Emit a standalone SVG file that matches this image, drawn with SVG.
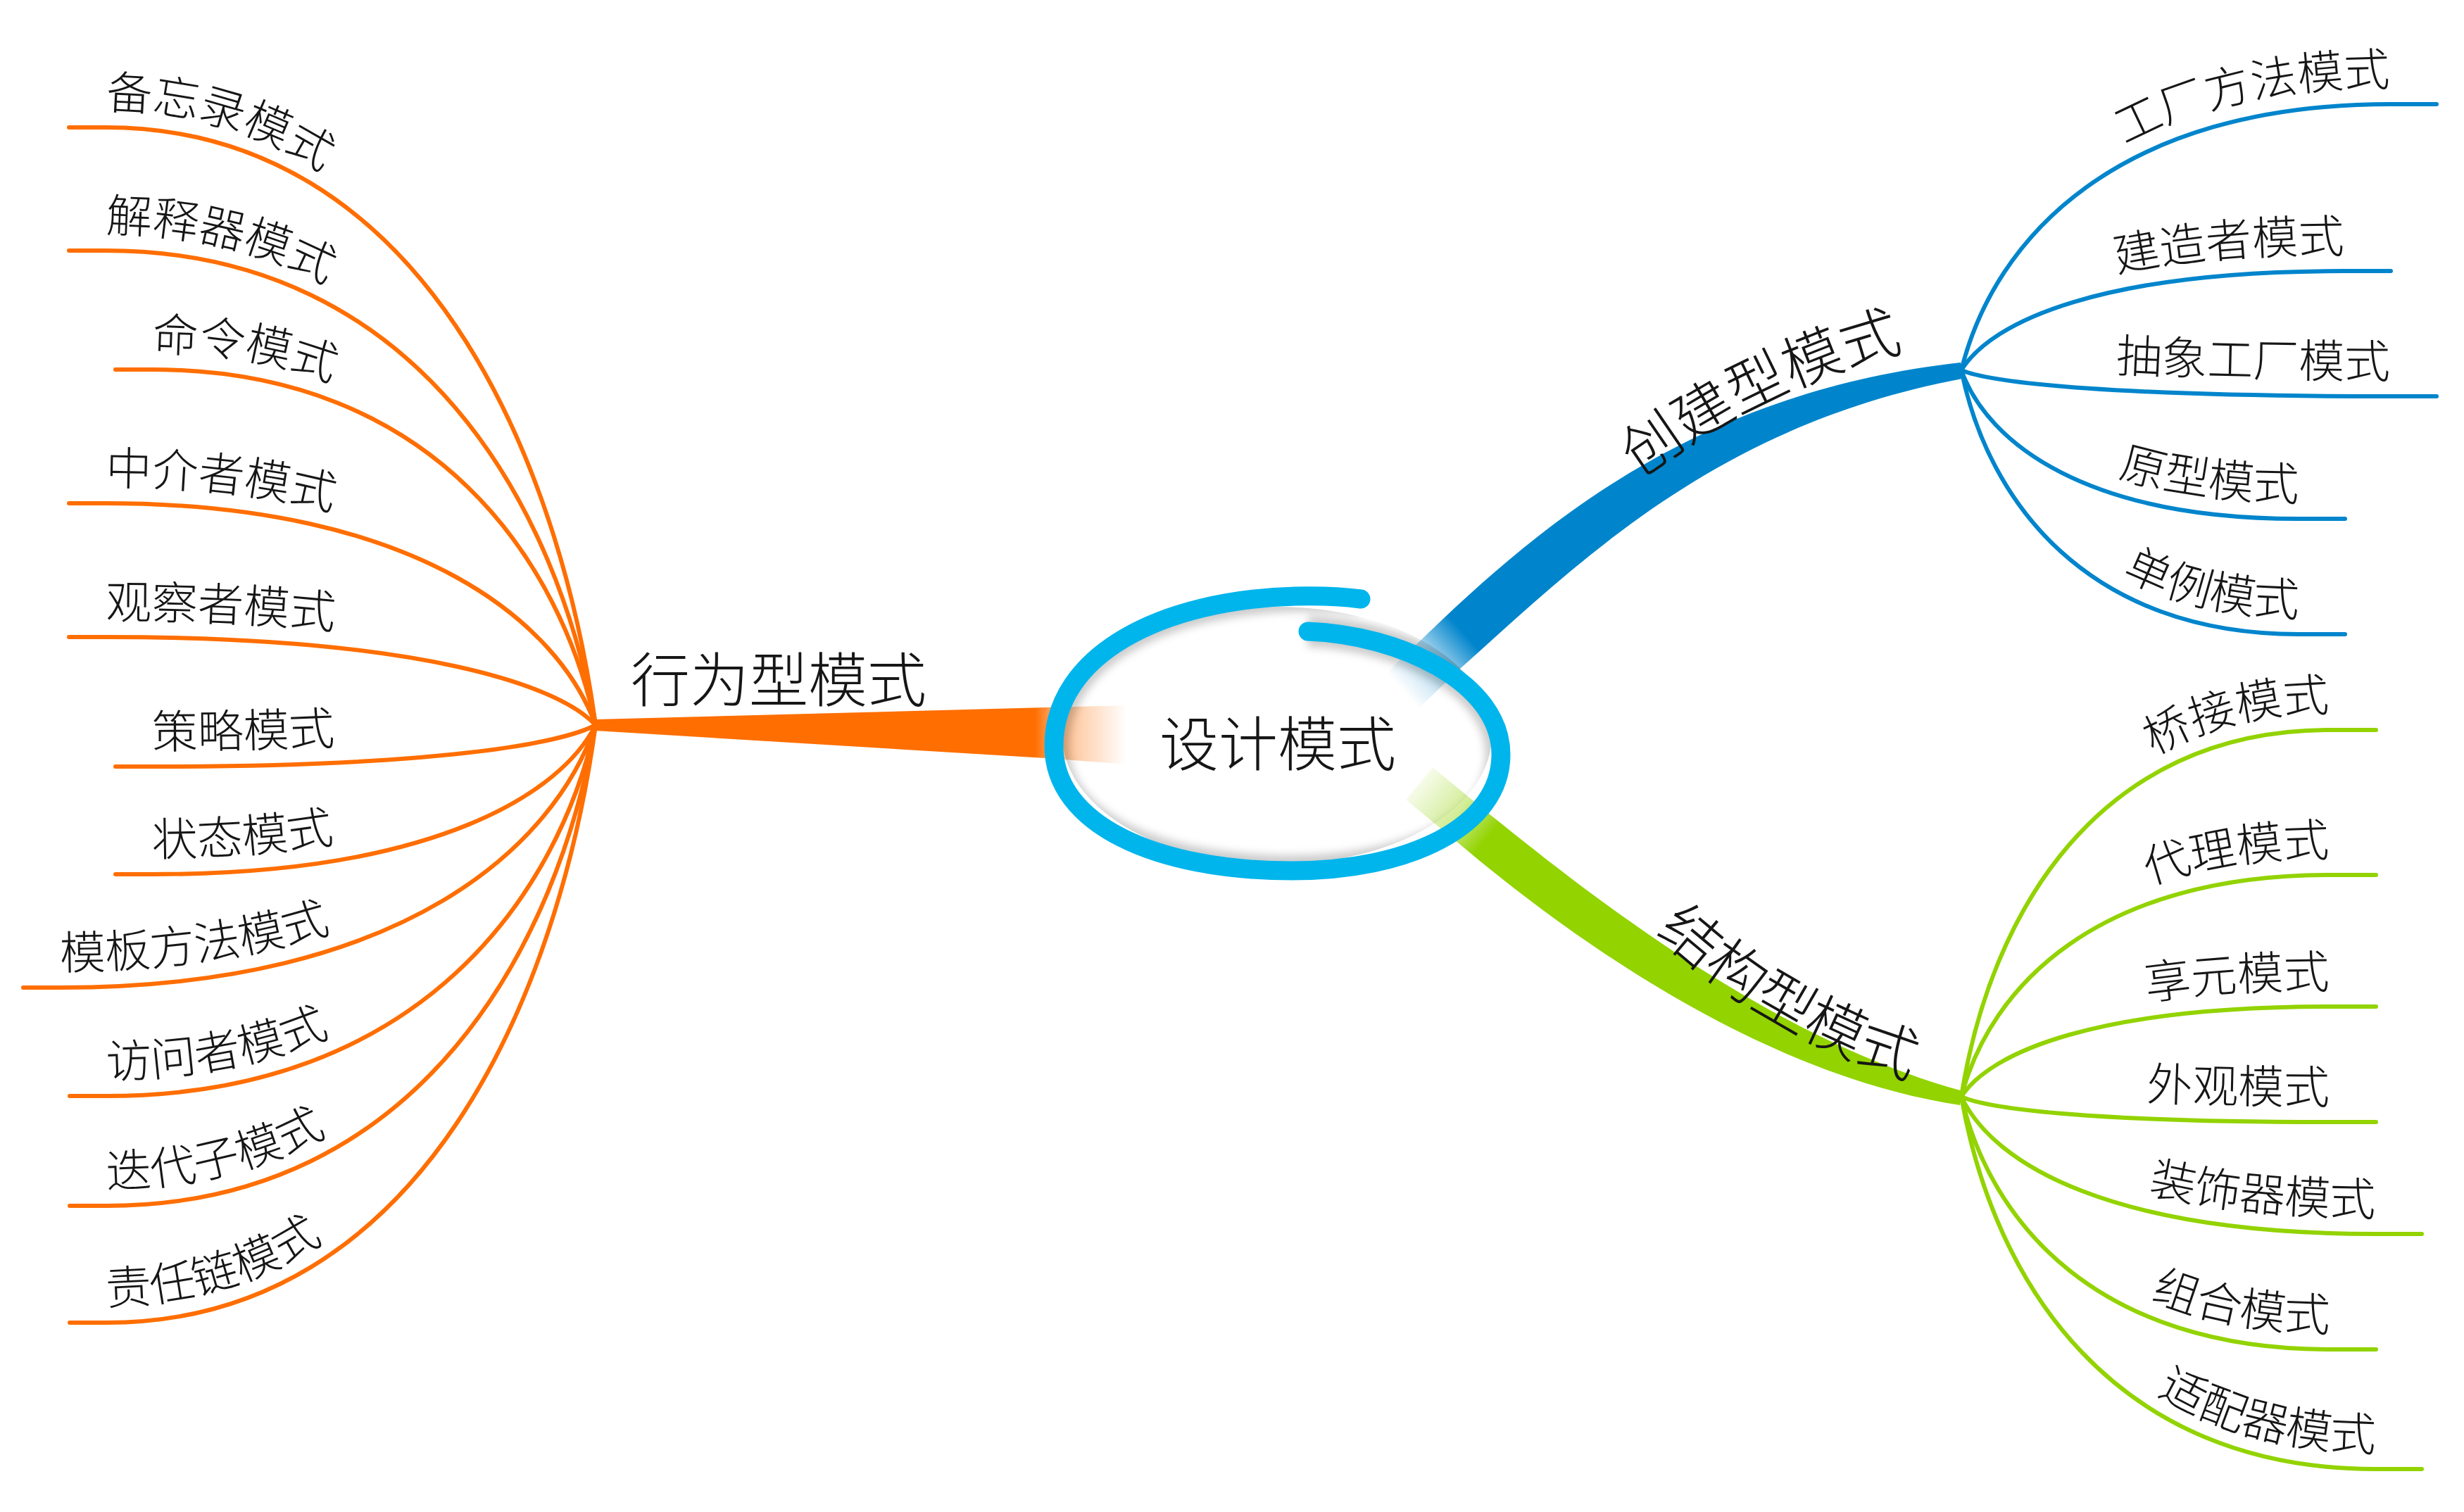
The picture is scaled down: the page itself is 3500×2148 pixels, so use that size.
<svg xmlns="http://www.w3.org/2000/svg" width="3500" height="2148" viewBox="0 0 3500 2148">
<style>
.lo{fill:none;stroke:#FF6E00;stroke-width:6;stroke-linecap:round}
.lb{fill:none;stroke:#0085CC;stroke-width:6;stroke-linecap:round}
.lg{fill:none;stroke:#92D300;stroke-width:6;stroke-linecap:round}
.t{font-family:"Noto Sans CJK SC","Noto Sans",sans-serif;fill:#161616;font-weight:300}
.leaf{font-size:65px}
.main{font-size:84px}
</style>
<defs>
<linearGradient id="gO" gradientUnits="userSpaceOnUse" x1="1470" y1="0" x2="1600" y2="0">
<stop offset="0" stop-color="#FF6E00" stop-opacity="1"/>
<stop offset="0.28" stop-color="#FF6E00" stop-opacity="0.45"/>
<stop offset="1" stop-color="#FF6E00" stop-opacity="0"/>
</linearGradient>
<linearGradient id="gB" gradientUnits="userSpaceOnUse" x1="1995" y1="985" x2="2085" y2="905">
<stop offset="0" stop-color="#0085CC" stop-opacity="0"/>
<stop offset="0.5" stop-color="#0085CC" stop-opacity="0.3"/>
<stop offset="1" stop-color="#0085CC" stop-opacity="1"/>
</linearGradient>
<linearGradient id="gG" gradientUnits="userSpaceOnUse" x1="2000" y1="1105" x2="2110" y2="1195">
<stop offset="0" stop-color="#92D300" stop-opacity="0"/>
<stop offset="0.6" stop-color="#92D300" stop-opacity="0.4"/>
<stop offset="1" stop-color="#92D300" stop-opacity="1"/>
</linearGradient>
<filter id="blur" x="-20%" y="-20%" width="140%" height="140%"><feGaussianBlur stdDeviation="6"/></filter>
<clipPath id="inner"><ellipse cx="1814" cy="1045" rx="305" ry="183"/></clipPath>
<path id="ring" d="M1858 897 C1990 902 2132 970 2132 1072 C2132 1175 2000 1237 1835 1237 C1640 1237 1497 1170 1497 1060 C1497 930 1650 852 1840 847 C1880 846 1910 848 1933 851"/>
<path id="tp-l1" d="M150 155 C599 155 794 622 846 1004"/>
<path id="tp-l2" d="M150 330 C599 330 794 701 846 1004"/>
<path id="tp-l3" d="M216 499 C621 499 798 777 846 1004"/>
<path id="tp-l4" d="M150 689 C599 689 794 862 846 1004"/>
<path id="tp-l5" d="M150 879 C599 879 794 948 846 1004"/>
<path id="tp-l6" d="M216 1063 C621 1063 798 1030 846 1004"/>
<path id="tp-l7" d="M216 1216 C621 1216 798 1099 846 1004"/>
<path id="tp-l8" d="M85 1377 C578 1377 789 1172 846 1004"/>
<path id="tp-l9" d="M151 1531 C600 1531 794 1241 846 1004"/>
<path id="tp-l10" d="M151 1687 C600 1687 794 1311 846 1004"/>
<path id="tp-l11" d="M151 1853 C600 1853 794 1386 846 1004"/>
<path id="tp-r1" d="M2786 500 C2833 311 3009 122 3395 122"/>
<path id="tp-r2" d="M2786 500 C2829 429.5 2987 359 3330 359"/>
<path id="tp-r3" d="M2786 500 C2833 518.5 3009 537 3395 537"/>
<path id="tp-r4" d="M2786 500 C2824 605.5 2966 711 3265 711"/>
<path id="tp-r5" d="M2786 500 C2824 687.5 2966 875 3265 875"/>
<path id="tp-g1" d="M2786 1532 C2827 1271.5 2980 1011 3309 1011"/>
<path id="tp-g2" d="M2786 1532 C2827 1374.5 2980 1217 3309 1217"/>
<path id="tp-g3" d="M2786 1532 C2827 1468 2980 1404 3309 1404"/>
<path id="tp-g4" d="M2786 1532 C2827 1550 2980 1568 3309 1568"/>
<path id="tp-g5" d="M2786 1532 C2832 1629.5 3002 1727 3374 1727"/>
<path id="tp-g6" d="M2786 1532 C2827 1711.5 2980 1891 3309 1891"/>
<path id="tp-g7" d="M2786 1532 C2832 1796.5 3002 2061 3374 2061"/>
<path id="tp-create" d="M2329 679 Q2506 549 2704 498"/>
<path id="tp-struct" d="M2349 1323 Q2517 1476 2716 1533"/>
</defs>
<rect width="3500" height="2148" fill="#fff"/>
<g id="connectors">
<path d="M846 1022 L1485 1005 L1605 1002 L1605 1086 L1485 1077 L846 1038 Z" fill="url(#gO)"/>
<path d="M1961 964 L2026 902 C2196 738 2416 556 2785 515 L2787 538 C2440 604 2250 792 2074 950 L2009 1012 Z" fill="url(#gB)"/>
<path d="M2035 1090 L2104 1147 C2250 1265 2512 1475 2788 1550 L2784 1570 C2488 1525 2210 1315 2066 1193 L1997 1136 Z" fill="url(#gG)"/>
<path class="lo" d="M98 181 H150 C599 181 794 648 846 1030"/>
<path class="lo" d="M98 356 H150 C599 356 794 727 846 1030"/>
<path class="lo" d="M164 525 H216 C621 525 798 803 846 1030"/>
<path class="lo" d="M98 715 H150 C599 715 794 888 846 1030"/>
<path class="lo" d="M98 905 H150 C599 905 794 974 846 1030"/>
<path class="lo" d="M164 1089 H216 C621 1089 798 1056 846 1030"/>
<path class="lo" d="M164 1242 H216 C621 1242 798 1125 846 1030"/>
<path class="lo" d="M33 1403 H85 C578 1403 789 1198 846 1030"/>
<path class="lo" d="M99 1557 H151 C600 1557 794 1267 846 1030"/>
<path class="lo" d="M99 1713 H151 C600 1713 794 1337 846 1030"/>
<path class="lo" d="M99 1879 H151 C600 1879 794 1412 846 1030"/>
<path class="lb" d="M2786 526 C2833 337 3009 148 3395 148 H3461"/>
<path class="lb" d="M2786 526 C2829 455.5 2987 385 3330 385 H3396"/>
<path class="lb" d="M2786 526 C2833 544.5 3009 563 3395 563 H3461"/>
<path class="lb" d="M2786 526 C2824 631.5 2966 737 3265 737 H3331"/>
<path class="lb" d="M2786 526 C2824 713.5 2966 901 3265 901 H3331"/>
<path class="lg" d="M2786 1558 C2827 1297.5 2980 1037 3309 1037 H3375"/>
<path class="lg" d="M2786 1558 C2827 1400.5 2980 1243 3309 1243 H3375"/>
<path class="lg" d="M2786 1558 C2827 1494 2980 1430 3309 1430 H3375"/>
<path class="lg" d="M2786 1558 C2827 1576 2980 1594 3309 1594 H3375"/>
<path class="lg" d="M2786 1558 C2832 1655.5 3002 1753 3374 1753 H3440"/>
<path class="lg" d="M2786 1558 C2827 1737.5 2980 1917 3309 1917 H3375"/>
<path class="lg" d="M2786 1558 C2832 1822.5 3002 2087 3374 2087 H3440"/>
</g>
<g id="root">
<g clip-path="url(#inner)">
<use href="#ring" fill="none" stroke="#000" stroke-opacity="0.2" stroke-width="44" filter="url(#blur)"/>
</g>
<use href="#ring" fill="none" stroke="#00B5EC" stroke-width="27" stroke-linecap="round"/>
<text class="t main" x="1815" y="1088" text-anchor="middle">设计模式</text>
</g>
<g id="node-behavior"><text class="t main" x="896" y="997">行为型模式</text></g>
<g id="node-creational"><text class="t main" text-anchor="middle"><textPath href="#tp-create" startOffset="50%">创建型模式</textPath></text></g>
<g id="node-structural"><text class="t main" text-anchor="middle"><textPath href="#tp-struct" startOffset="50%">结构型模式</textPath></text></g>
<g id="node-memento"><text class="t leaf"><textPath href="#tp-l1">备忘录模式</textPath></text></g>
<g id="node-interpreter"><text class="t leaf"><textPath href="#tp-l2">解释器模式</textPath></text></g>
<g id="node-command"><text class="t leaf"><textPath href="#tp-l3">命令模式</textPath></text></g>
<g id="node-mediator"><text class="t leaf"><textPath href="#tp-l4">中介者模式</textPath></text></g>
<g id="node-observer"><text class="t leaf"><textPath href="#tp-l5">观察者模式</textPath></text></g>
<g id="node-strategy"><text class="t leaf"><textPath href="#tp-l6">策略模式</textPath></text></g>
<g id="node-state"><text class="t leaf"><textPath href="#tp-l7">状态模式</textPath></text></g>
<g id="node-template"><text class="t leaf"><textPath href="#tp-l8">模板方法模式</textPath></text></g>
<g id="node-visitor"><text class="t leaf"><textPath href="#tp-l9">访问者模式</textPath></text></g>
<g id="node-iterator"><text class="t leaf"><textPath href="#tp-l10">迭代子模式</textPath></text></g>
<g id="node-chain"><text class="t leaf"><textPath href="#tp-l11">责任链模式</textPath></text></g>
<g id="node-factory-method"><text class="t leaf" text-anchor="end"><textPath href="#tp-r1" startOffset="100%">工厂方法模式</textPath></text></g>
<g id="node-builder"><text class="t leaf" text-anchor="end"><textPath href="#tp-r2" startOffset="100%">建造者模式</textPath></text></g>
<g id="node-abstract-factory"><text class="t leaf" text-anchor="end"><textPath href="#tp-r3" startOffset="100%">抽象工厂模式</textPath></text></g>
<g id="node-prototype"><text class="t leaf" text-anchor="end"><textPath href="#tp-r4" startOffset="100%">原型模式</textPath></text></g>
<g id="node-singleton"><text class="t leaf" text-anchor="end"><textPath href="#tp-r5" startOffset="100%">单例模式</textPath></text></g>
<g id="node-bridge"><text class="t leaf" text-anchor="end"><textPath href="#tp-g1" startOffset="100%">桥接模式</textPath></text></g>
<g id="node-proxy"><text class="t leaf" text-anchor="end"><textPath href="#tp-g2" startOffset="100%">代理模式</textPath></text></g>
<g id="node-flyweight"><text class="t leaf" text-anchor="end"><textPath href="#tp-g3" startOffset="100%">享元模式</textPath></text></g>
<g id="node-facade"><text class="t leaf" text-anchor="end"><textPath href="#tp-g4" startOffset="100%">外观模式</textPath></text></g>
<g id="node-decorator"><text class="t leaf" text-anchor="end"><textPath href="#tp-g5" startOffset="100%">装饰器模式</textPath></text></g>
<g id="node-composite"><text class="t leaf" text-anchor="end"><textPath href="#tp-g6" startOffset="100%">组合模式</textPath></text></g>
<g id="node-adapter"><text class="t leaf" text-anchor="end"><textPath href="#tp-g7" startOffset="100%">适配器模式</textPath></text></g>
</svg>
